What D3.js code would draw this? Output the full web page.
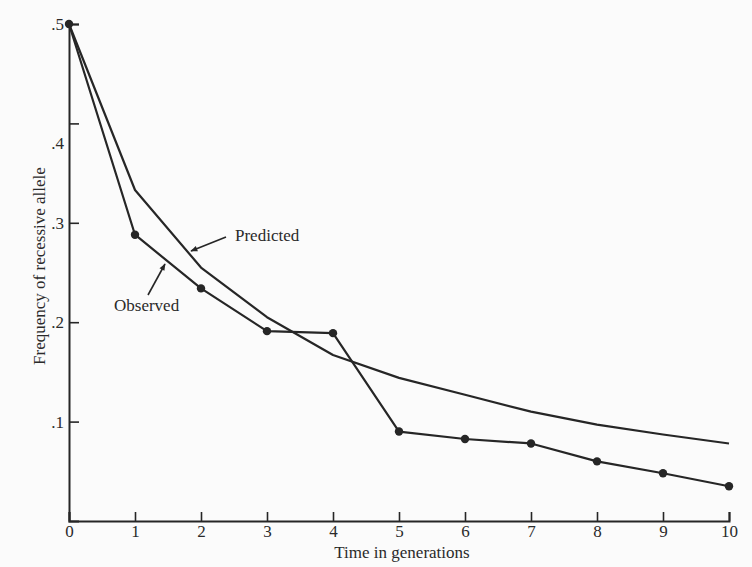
<!DOCTYPE html>
<html><head><meta charset="utf-8">
<script src="https://cdn.jsdelivr.net/npm/d3@7/dist/d3.min.js"></script>
<style>
html,body{margin:0;padding:0;background:#fbfbfb;}
svg{display:block;}
text{font-family:"Liberation Serif","DejaVu Serif",serif;fill:#2a2a2a;}
</style></head>
<body>
<svg id="chart" width="752" height="567"></svg>
<script>
const generations = [0,1,2,3,4,5,6,7,8,9,10];
const observed = [0.5,0.288,0.234,0.191,0.189,0.090,0.0825,0.078,0.060,0.048,0.035];
const predicted = [0.5,0.333,0.255,0.205,0.167,0.144,0.127,0.110,0.097,0.087,0.078];
const xTicks = [0,1,2,3,4,5,6,7,8,9,10];
const yTicks = [0.1,0.2,0.3,0.4,0.5];
const yTickLabels = [".1",".2",".3",".4",".5"];

const svg = d3.select("#chart");
const x = d3.scaleLinear().domain([0,10]).range([69,729]);
const y = d3.scaleLinear().domain([0,0.5]).range([521,24]);
const ink = "#262626";

// axes
const xAxis = svg.append("g").attr("transform","translate(0,521)")
  .call(d3.axisBottom(x).tickValues(xTicks).tickSize(-9).tickPadding(4).tickFormat(d3.format("d")));
const yAxis = svg.append("g").attr("transform","translate(69,0)")
  .call(d3.axisLeft(y).tickValues(yTicks).tickSize(-10).tickPadding(3)
    .tickFormat((d,i)=>yTickLabels[i]));
[xAxis,yAxis].forEach(g=>{
  g.select(".domain").attr("stroke",ink).attr("stroke-width",2);
  g.selectAll(".tick line").attr("stroke",ink).attr("stroke-width",1.6);
  g.selectAll(".tick text").attr("font-family","Liberation Serif, serif").attr("font-size",17).attr("fill","#2a2a2a");
});
yAxis.selectAll(".tick text").attr("x",-5);
yAxis.selectAll(".tick text").filter(d=>d===0.4).attr("dy","1.5em");

// axis titles
svg.append("text").attr("x",402).attr("y",558).attr("text-anchor","middle")
  .attr("font-size",17).text("Time in generations");
svg.append("text").attr("transform","translate(45,266) rotate(-90)").attr("text-anchor","middle")
  .attr("font-size",17).text("Frequency of recessive allele");

// lines
const line = d3.line().x((d,i)=>x(generations[i])).y(d=>y(d));
svg.append("path").datum(predicted).attr("d",line).attr("fill","none")
  .attr("stroke",ink).attr("stroke-width",2.2).attr("stroke-linejoin","round");
svg.append("path").datum(observed).attr("d",line).attr("fill","none")
  .attr("stroke",ink).attr("stroke-width",2.2).attr("stroke-linejoin","round");
svg.selectAll("circle.obs").data(observed).join("circle").attr("class","obs")
  .attr("cx",(d,i)=>x(generations[i])).attr("cy",d=>y(d)).attr("r",4.2).attr("fill",ink);

// arrow marker
svg.append("defs").append("marker").attr("id","ah").attr("viewBox","0 0 10 10")
  .attr("refX",9).attr("refY",5).attr("markerWidth",9).attr("markerHeight",7)
  .attr("markerUnits","userSpaceOnUse").attr("orient","auto")
  .append("path").attr("d","M0,1 L10,5 L0,9 Z").attr("fill",ink);

// annotations
svg.append("text").attr("x",235).attr("y",241).attr("font-size",17).text("Predicted");
svg.append("line").attr("x1",226).attr("y1",237).attr("x2",191).attr("y2",251)
  .attr("stroke",ink).attr("stroke-width",1.6).attr("marker-end","url(#ah)");
svg.append("text").attr("x",114).attr("y",311).attr("font-size",17).text("Observed");
svg.append("line").attr("x1",148).attr("y1",295).attr("x2",165).attr("y2",264)
  .attr("stroke",ink).attr("stroke-width",1.6).attr("marker-end","url(#ah)");
</script>
</body></html>
